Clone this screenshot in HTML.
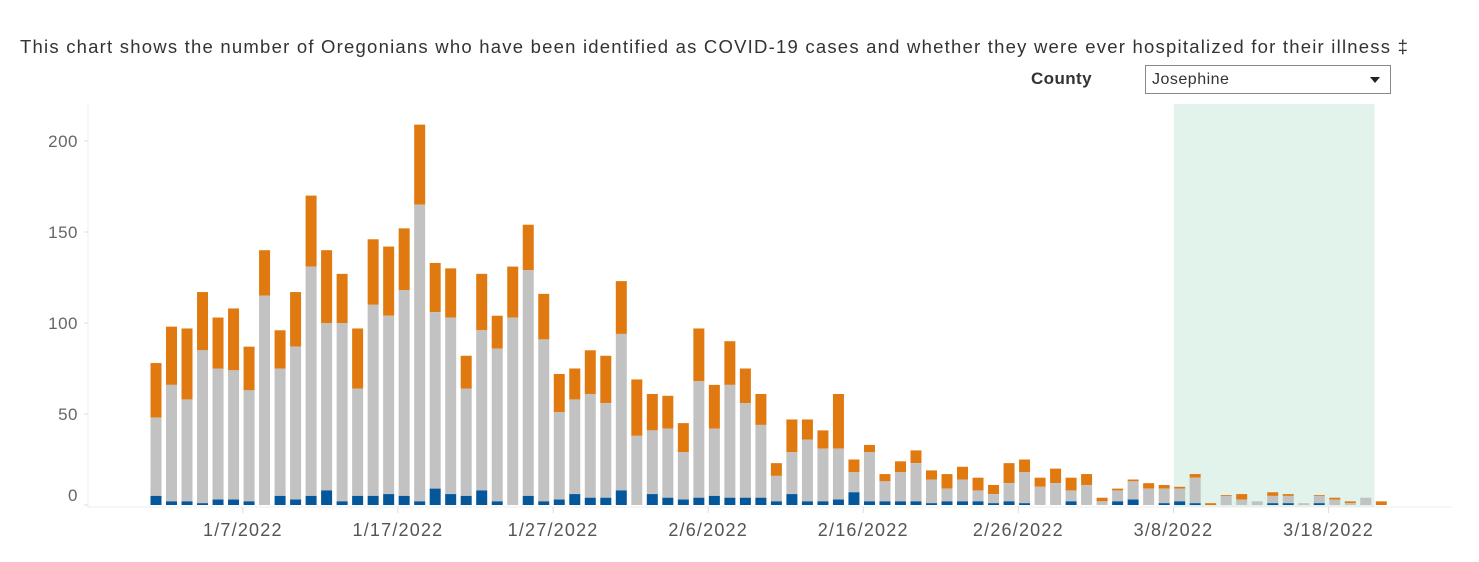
<!DOCTYPE html>
<html><head><meta charset="utf-8"><style>
body{margin:0;width:1479px;height:562px;background:#fff;font-family:"Liberation Sans",sans-serif;overflow:hidden;position:relative}
#title{position:absolute;left:20px;top:36px;font-size:18.5px;letter-spacing:1.22px;color:#333;white-space:nowrap}
#county-label{position:absolute;left:1031px;top:69px;font-size:17px;font-weight:bold;color:#333;letter-spacing:0.4px}
#dropdown{position:absolute;left:1145px;top:65px;width:246px;height:29px;border:1px solid #888;box-sizing:border-box;font-size:16px;color:#333;padding:5px 6px;letter-spacing:0.5px}
#dropdown .arr{position:absolute;right:10px;top:11px;width:0;height:0;border-left:5px solid transparent;border-right:5px solid transparent;border-top:6px solid #222}
svg{position:absolute;left:0;top:0}
</style></head><body>
<div id="title">This chart shows the number of Oregonians who have been identified as COVID-19 cases and whether they were ever hospitalized for their illness ‡</div>
<div id="county-label">County</div>
<div id="dropdown">Josephine<span class="arr"></span></div>
<svg id="chart" width="1479" height="562"></svg>
<script>
const hospTop=[5,2,2,1,3,3,2,0,5,3,5,8,2,5,5,6,5,2,9,6,5,8,2,0,5,2,3,6,4,4,8,0,6,4,3,4,5,4,4,4,2,6,2,2,3,7,2,2,2,2,1,2,2,2,1,2,1,0,0,2,0,0,2,3,0,1,2,1,0,0,0,0,1,1,0,1,0,0,0,0];
const grayTop=[48,66,58,85,75,74,63,115,75,87,131,100,100,64,110,104,118,165,106,103,64,96,86,103,129,91,51,58,61,56,94,38,41,42,29,68,42,66,56,44,16,29,36,31,31,18,29,13,18,23,14,9,14,8,6,12,18,10,12,8,11,2,8,13,9,9,9,15,0,5,3,2,5,5,1,5,3,1,4,0];
const totalTop=[78,98,97,117,103,108,87,140,96,117,170,140,127,97,146,142,152,209,133,130,82,127,104,131,154,116,72,75,85,82,123,69,61,60,45,97,66,90,75,61,23,47,47,41,61,25,33,17,24,30,19,17,21,15,11,23,25,15,20,15,17,4,9,14,12,11,10,17,1,5.5,6,2,7,6,1,5.5,4,2,4,2];
const yTicks=[0,50,100,150,200];
const xTickLabels=["1/7/2022","1/17/2022","1/27/2022","2/6/2022","2/16/2022","2/26/2022","3/8/2022","3/18/2022"];
const xTickIdx=[6,16,26,36,46,56,66,76];
const bandStartIdx=66, bandEndIdx=79;
const svg=document.getElementById('chart');const NS='http://www.w3.org/2000/svg';
const x0=156,pitch=15.51,bw=11;
const X=i=>x0+i*pitch;const Y=v=>505-v*1.82;
function mk(t,a){const e=document.createElementNS(NS,t);for(const k in a)e.setAttribute(k,a[k]);svg.appendChild(e);return e;}
const band=mk('rect',{x:X(bandStartIdx)-0.4*pitch+0.5,y:104,width:X(bandEndIdx)-X(bandStartIdx)-1,height:403,fill:'#e1f3eb'});


const ax=mk('line',{x1:88,y1:104,x2:88,y2:508,stroke:'#eee'});


const bl=mk('line',{x1:88,y1:507,x2:1452,y2:507,stroke:'#eee'});


yTicks.forEach(v=>{const t=mk('text',{x:78,y:(v===0?Y(v)-10:Y(v))+6,'text-anchor':'end','font-size':17,fill:'#666','letter-spacing':0.5});t.textContent=v;


mk('line',{x1:84,x2:88,y1:Y(v),y2:Y(v),stroke:'#ddd'});});
xTickLabels.forEach((s,k)=>{const xx=X(xTickIdx[k])-0.4*pitch;mk('line',{x1:xx,x2:xx,y1:507,y2:513,stroke:'#ddd'});
const t=mk('text',{x:xx,y:536,'text-anchor':'middle','font-size':18,'letter-spacing':1.2,fill:'#555'});t.textContent=s;

});
totalTop.forEach((tot,i)=>{const h=hospTop[i]||0,g=Math.max(grayTop[i]||0,h),o=Math.max(tot,g);const bx=X(i)-bw/2;
if(o>g){const r=mk('rect',{x:bx,y:Y(o),width:bw,height:Y(g)-Y(o),fill:'#e07a10'});

}
if(g>h){const r=mk('rect',{x:bx,y:Y(g),width:bw,height:Y(h)-Y(g),fill:'#c2c2c2'});

}
if(h>0){const r=mk('rect',{x:bx,y:Y(h),width:bw,height:Y(0)-Y(h),fill:'#03579a'});

}});
</script>
</body></html>
